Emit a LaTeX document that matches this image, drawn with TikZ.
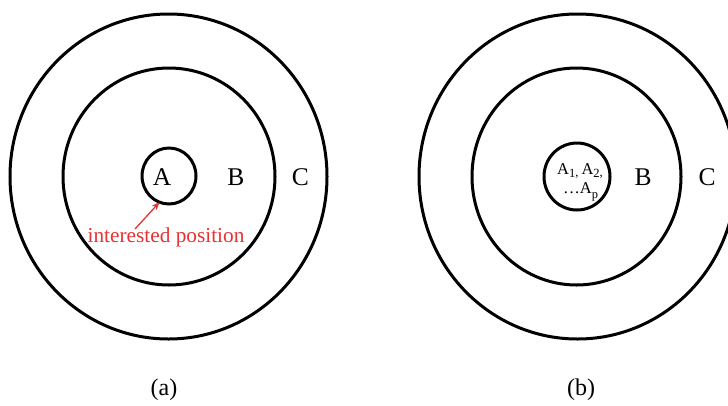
\documentclass[tikz,border=0pt]{standalone}
\usepackage{fontspec}
\setmainfont{Liberation Serif}
\usetikzlibrary{shapes.geometric,arrows.meta}
\definecolor{redlbl}{RGB}{232,50,50}
\newcommand\lowsub[2][-3.5pt]{\raisebox{#1}{\fontsize{12.5}{12.5}\selectfont #2}}
\begin{document}
\begin{tikzpicture}[x=1pt,y=-1pt,
  ring/.style={draw=black,line width=3pt,ellipse,inner sep=0pt,outer sep=0pt},
  lbl/.style={font=\fontsize{25.5}{25.5}\selectfont,inner sep=0pt,anchor=base},
  sub/.style={font=\fontsize{16.5}{16.5}\selectfont,inner sep=0pt,anchor=base},
  figcaption/.style={font=\fontsize{24}{24}\selectfont,inner sep=0pt},
  redtext/.style={font=\fontsize{21.3}{21.3}\selectfont,text=redlbl,inner sep=0pt,anchor=base},
  pointer/.style={draw=redlbl,line width=1.3pt,-{Stealth[length=8pt,width=6.5pt]}}]
\useasboundingbox (0,0) rectangle (728,405);
\clip (0,0) rectangle (728,405);
% (a)
\node[ring,minimum width=317pt,minimum height=325pt] (ao) at (168.5,176.5) {};
\node[ring,minimum width=212pt,minimum height=217pt] (am) at (169,176.5) {};
\node[ring,minimum width=54pt,minimum height=56pt] (ai) at (169,176) {};
\node[lbl] (la) at (162,185) {A};
\node[lbl] (lb) at (236,185) {B};
\node[lbl] (lc) at (300.5,185) {C};
\node[redtext] (ip) at (166,242) {interested position};
\coordinate (as) at (135,229);
\draw[pointer] (as) -- (ai.250);
\node[figcaption] (capa) at (164,390) {(a)};
% (b)
\node[ring,minimum width=317pt,minimum height=325pt] (bo) at (577.5,176.5) {};
\node[ring,minimum width=66pt,minimum height=67pt] (bi) at (577,176.5) {};
\node[ring,minimum width=209pt,minimum height=217pt] (bm) at (576.5,176.5) {};
\node[sub] (b1) at (580,174) {A\lowsub{1}\lowsub[-2pt]{,}\hspace{3pt}A\lowsub{2}\lowsub[-2pt]{,}};
\node[sub] (b2) at (581,193) {.\hspace{1.5pt}.\hspace{1.5pt}.\hspace{0.5pt}A\lowsub[-5pt]{p}};
\node[lbl] (lb2) at (643,185) {B};
\node[lbl] (lc2) at (707,185) {C};
\node[figcaption] (capb) at (581,390) {(b)};
\end{tikzpicture}
\end{document}
